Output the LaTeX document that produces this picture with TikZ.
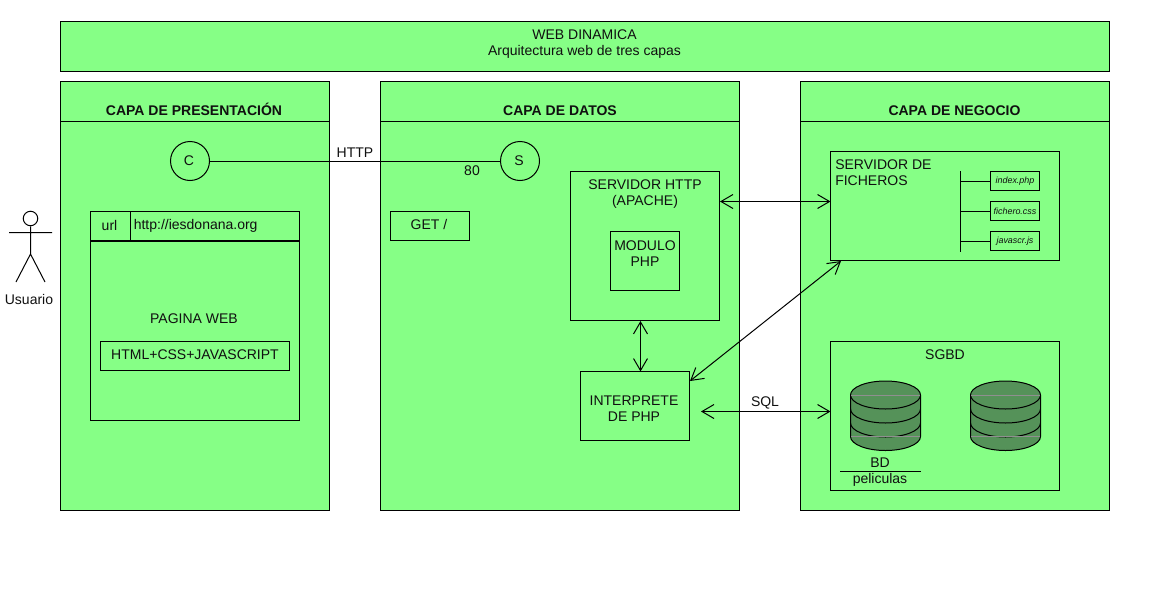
\documentclass[tikz,border=0pt]{standalone}
\usepackage{fontspec}
\setmainfont{Liberation Sans}
\usetikzlibrary{arrows.meta}
\definecolor{panelgreen}{HTML}{86FF86}
\definecolor{dbgreen}{HTML}{559259}
\definecolor{dbgray}{HTML}{8F8F8F}
\definecolor{inkc}{HTML}{101010}
\tikzset{
  panel/.style={draw=black,fill=panelgreen,line width=0.75pt,inner sep=0pt,outer sep=0pt,text=inkc,font=\fontsize{10.5}{12}\selectfont,align=center},
  filebox/.style={panel,font=\fontsize{6.7}{8}\selectfont\itshape},
  label/.style={text=inkc,font=\fontsize{10.5}{12}\selectfont,align=center,inner sep=0pt},
  head/.style={label,font=\fontsize{10.5}{12}\selectfont\bfseries},
  circ/.style={panel,circle},
  wire/.style={draw=black,line width=0.75pt},
  conn/.style={wire,{Straight Barb[length=9pt,width=10.5pt,line width=0.75pt]}-{Straight Barb[length=9pt,width=10.5pt,line width=0.75pt]}},
}
\newcommand{\boxat}[7][panel]{\node[#1,minimum width=#6*0.75pt,minimum height=#7*0.75pt,anchor=north west] (#2) at (#4,#5) {#3};}
\newcommand{\dbcyl}[1]{%
  \begin{scope}[shift={(#1,0)}]
    \fill[dbgreen] (0,395) -- (0,436.5) arc[start angle=180,end angle=0,x radius=35,y radius=14] -- (70,395) arc[start angle=360,end angle=180,x radius=35,y radius=14] -- cycle;
    \draw[wire] (0,436.5) -- (0,395) arc[start angle=180,end angle=360,x radius=35,y radius=14] -- (70,436.5) arc[start angle=0,end angle=180,x radius=35,y radius=14];
    \draw[wire] (0,395) arc[start angle=180,end angle=0,x radius=35,y radius=14];
    \draw[wire] (0,409) arc[start angle=180,end angle=0,x radius=35,y radius=14];
    \draw[wire] (0,423) arc[start angle=180,end angle=0,x radius=35,y radius=14];
    \draw[dbgray,line width=0.75pt] (0.5,395.5) -- (69.5,395.5) (0.5,436.5) -- (69.5,436.5);
  \end{scope}}
\begin{document}
\begin{tikzpicture}[x=0.75pt,y=-0.75pt]
\useasboundingbox[fill=white] (0,0) rectangle (1153,596);
% top banner
\boxat{top}{}{60.5}{21.5}{1049}{49.5}
\node[label] (topt) at (584.5,44.5) {WEB DINAMICA\\Arquitectura web de tres capas};
% panels
\boxat{pres}{}{60.5}{81.5}{269}{429}
\boxat{dat}{}{380.5}{81.5}{359}{429}
\boxat{neg}{}{800.5}{81.5}{309}{429}
\draw[wire] (pres.west |- 0,121.5) -- (pres.east |- 0,121.5);
\draw[wire] (dat.west |- 0,121.5) -- (dat.east |- 0,121.5);
\draw[wire] (neg.west |- 0,121.5) -- (neg.east |- 0,121.5);
\node[head] (h1) at (194,109.5) {CAPA DE PRESENTACIÓN};
\node[head] (h2) at (560,110.5) {CAPA DE DATOS};
\node[head] (h3) at (954.5,110.5) {CAPA DE NEGOCIO};
% actor
\node[draw=black,fill=white,circle,line width=0.75pt,minimum size=14.5*0.75pt,inner sep=0pt] (uhead) at (30.5,218.5) {};
\coordinate (uhip) at (30.5,254);
\coordinate (ularm) at (9,232.5);
\coordinate (urarm) at (52,232.5);
\coordinate (ullg) at (16,282);
\coordinate (urlg) at (45,282);
\draw[wire] (uhead.south) -- (uhip) (ularm) -- (urarm) (ullg) -- (uhip) -- (urlg);
\node[label] (usr) at (29,299.5) {Usuario};
% C, S
\node[circ,minimum size=39*0.75pt] (c) at (190,161) {\kern-1.5pt C};
\node[circ,minimum size=39*0.75pt] (s) at (520,161) {\kern-1.5pt S};
\draw[wire] (c) -- (s);
\node[label] (http) at (355,152.5) {HTTP};
\node[label] (p80) at (472,170.5) {80};
% browser
\boxat{brow}{}{90.5}{211.5}{209}{209}
\coordinate (bhl) at (90.5,241);
\coordinate (bhr) at (299.5,241);
\draw[draw=black,line width=1.4pt] (bhl) -- (bhr);
\draw[wire] (130.5,211.5) -- (130.5,241);
\node[label] (url) at (109.5,225) {url};
\node[label,anchor=west] (addr) at (133.5,226) {http://iesdonana.org};
\node[label] (pag) at (194,319) {PAGINA WEB};
\boxat{html}{}{100.5}{341.5}{189}{29}
\node[label] (htmlt) at (195,355) {HTML+CSS+JAVASCRIPT};
% datos
\boxat{get}{}{390.5}{211.5}{79}{29}
\node[label] (gett) at (429,224) {GET /};
\boxat{srv}{}{570.5}{171.5}{149}{149}
\node[label] (srvt) at (645,194.5) {SERVIDOR HTTP\\(APACHE)};
\boxat{mod}{}{610.5}{231.5}{69}{59}
\node[label] (modt) at (645,253.5) {MODULO\\PHP};
\boxat{inter}{}{580.5}{371.5}{109}{69}
\node[label] (intt) at (634,408.5) {INTERPRETE\\DE PHP};
% negocio
\boxat{fich}{}{830.5}{151.5}{228.5}{109}
\node[label,align=left,anchor=north west] (ficht) at (835,159) {SERVIDOR DE\\FICHEROS};
\coordinate (vt) at (960.5,171);
\coordinate (vb) at (960.5,251.5);
\draw[wire] (vt) -- (vb);
\boxat[filebox]{f1}{index.php}{990.5}{171.5}{49}{19}
\boxat[filebox]{f2}{fichero.css}{990.5}{201.5}{49}{19}
\boxat[filebox]{f3}{javascr.js}{990.5}{231.5}{49}{19}
\draw[wire] (f1.west) -- (f1.west -| vt);
\draw[wire] (f2.west) -- (f2.west -| vt);
\draw[wire] (f3.west) -- (f3.west -| vt);
\boxat{sgbd}{}{830.5}{341.5}{228.5}{149}
\node[label] (sgt) at (945,355) {SGBD};
\dbcyl{850.5}
\dbcyl{970.5}
\node[label] (bd) at (880,462.5) {BD};
\coordinate (ul) at (840,471.5);
\coordinate (ur) at (921,471.5);
\draw[wire] (ul) -- (ur);
\node[label] (pel) at (880,479.5) {peliculas};
% connectors
\coordinate (a1) at (720,201.5);
\coordinate (a2) at (830.5,201.5);
\draw[conn] (a1) -- (a2);
\coordinate (b1) at (640.5,321);
\coordinate (b2) at (640.5,371.5);
\draw[conn] (b1) -- (b2);
\coordinate (d1) at (690,381);
\coordinate (d2) at (841,261);
\draw[conn] (d1) -- (d2);
\coordinate (e1) at (701,411.5);
\coordinate (e2) at (830.5,411.5);
\draw[conn] (e1) -- (e2);
\node[label] (sql) at (765,402.5) {SQL};
\end{tikzpicture}
\end{document}
